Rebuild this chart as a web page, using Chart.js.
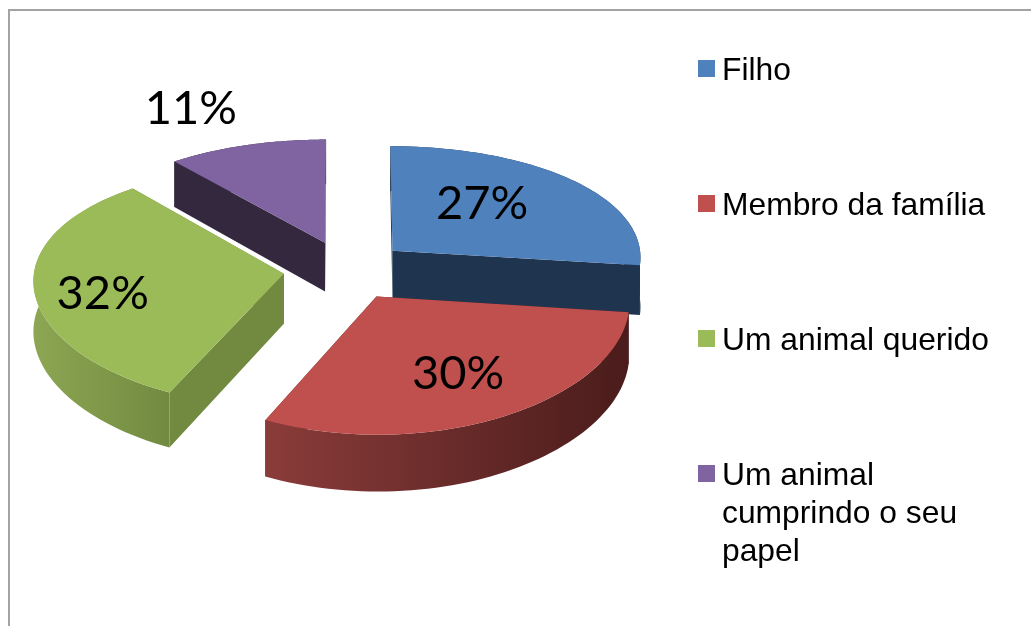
<!DOCTYPE html>
<html>
<head>
<meta charset="utf-8">
<script src="https://cdn.jsdelivr.net/npm/chart.js@4"></script>
<style>
html, body { margin: 0; padding: 0; background: #fff; overflow: hidden; }
#wrap { position: relative; width: 1031px; height: 626px; }
#frame { position: absolute; left: 8px; top: 9px; right: -4px; bottom: -4px; border: 2px solid #a3a3a3; }
canvas { position: absolute; left: 0; top: 0; }
#legend { position: absolute; left: 698px; top: 50px; width: 300px; font: 31.8px/38px "Liberation Sans", Arial, sans-serif; color: #000; }
.item { position: relative; padding-left: 24px; margin-bottom: 97px; }
.item i { position: absolute; left: 0; top: 10px; width: 17px; height: 17px; }
</style>
</head>
<body>
<div id="wrap">
  <div id="frame"></div>
  <canvas id="pie" width="1031" height="626"></canvas>
  <div id="legend"></div>
</div>
<script>
const categories = ["Filho", "Membro da família", "Um animal querido", "Um animal cumprindo o seu papel"];
const percentValues = [27, 30, 32, 11];
const topColors = ["#4f81bd", "#c0504d", "#9bbb59", "#8064a2"];
const wallColors = ["#1f344f", "#4f1f1e", "#728a40", "#34283f"];
const outerLeftColors = ["#1f344f", "#8a3c3a", "#8ca653", "#34283f"];
const outerRightColors = ["#1f344f", "#4a1c1b", "#728a40", "#34283f"];
const labelRadius = [0.55, 0.63, 0.73, 1.3];
const labelNudge = [[-10, -7], [2, 5], [1, 9], [-33, -10]];

// look of the 3d pie, as fractions of the arc's outerRadius
const squashX = 1.025;
const squashY = 0.487;
const depth = 0.205;
const perspectiveX = 0.05;
const perspectiveY = 0.10;
const shiftX = 2;
const shiftY = -4;

function project(arc, u, v, h) {
    const sx = 1 / (1 + perspectiveX * v);
    const sy = 1 / (1 + perspectiveY * v);
    return {
        x: arc.x + shiftX + arc.outerRadius * squashX * u * sx,
        y: arc.y + shiftY - arc.outerRadius * squashY * v * sy + arc.outerRadius * depth * h * sy
    };
}

function slicePoint(arc, angle, r, h) {
    const mid = (arc.startAngle + arc.endAngle) / 2;
    const off = arc.options.offset / arc.outerRadius;
    const u = off * Math.cos(mid) + r * Math.cos(angle);
    const v = -off * Math.sin(mid) - r * Math.sin(angle);
    return project(arc, u, v, h);
}

function arcPoints(arc, h) {
    let pts = [];
    for (let i = 0; i <= 60; i++) {
        let a = arc.startAngle + (arc.endAngle - arc.startAngle) * i / 60;
        pts.push(slicePoint(arc, a, 1, h));
    }
    return pts;
}

function fillPoly(ctx, pts, fill) {
    ctx.beginPath();
    pts.forEach((p, i) => i ? ctx.lineTo(p.x, p.y) : ctx.moveTo(p.x, p.y));
    ctx.closePath();
    ctx.fillStyle = fill;
    ctx.fill();
}

function drawSlice(ctx, arc, i) {
    const top = arcPoints(arc, 0);
    const bottom = arcPoints(arc, 1);
    const apexTop = slicePoint(arc, 0, 0, 0);
    const apexBottom = slicePoint(arc, 0, 0, 1);

    // radial walls first, the rest paints over the hidden ones
    fillPoly(ctx, [apexTop, top[0], bottom[0], apexBottom], wallColors[i]);
    fillPoly(ctx, [apexTop, top[60], bottom[60], apexBottom], wallColors[i]);

    const xs = top.map(p => p.x);
    const grad = ctx.createLinearGradient(Math.min(...xs), 0, Math.max(...xs), 0);
    grad.addColorStop(0, outerLeftColors[i]);
    grad.addColorStop(1, outerRightColors[i]);
    fillPoly(ctx, top.concat(bottom.slice().reverse()), grad);

    fillPoly(ctx, [apexTop].concat(top), topColors[i]);
}

const pie3d = {
    id: 'pie3d',
    beforeDatasetsDraw(chart) {
        const ctx = chart.ctx;
        const arcs = chart.getDatasetMeta(0).data;
        ctx.save();
        [3, 0, 2, 1].forEach(i => drawSlice(ctx, arcs[i], i));
        ctx.fillStyle = '#000';
        ctx.font = '47px Lato, sans-serif';
        ctx.textAlign = 'center';
        ctx.textBaseline = 'middle';
        arcs.forEach((arc, i) => {
            const mid = (arc.startAngle + arc.endAngle) / 2;
            const p = slicePoint(arc, mid, labelRadius[i], 0);
            ctx.fillText(percentValues[i] + '%', p.x + labelNudge[i][0], p.y + labelNudge[i][1]);
        });
        ctx.restore();
        return false;
    }
};

new Chart(document.getElementById('pie'), {
    type: 'pie',
    data: {
        labels: categories,
        datasets: [{ data: percentValues, backgroundColor: topColors, offset: 61, borderWidth: 0 }]
    },
    options: {
        responsive: false,
        animation: false,
        layout: { padding: { right: 343, bottom: 78 } },
        plugins: { legend: { display: false }, tooltip: { enabled: false } }
    },
    plugins: [pie3d]
});

// html legend, the long label wraps inside the box width
const legendEl = document.getElementById('legend');
categories.forEach((name, i) => {
    const row = document.createElement('div');
    row.className = 'item';
    const box = document.createElement('i');
    box.style.background = topColors[i];
    row.appendChild(box);
    row.appendChild(document.createTextNode(name));
    legendEl.appendChild(row);
});
</script>
</body>
</html>
